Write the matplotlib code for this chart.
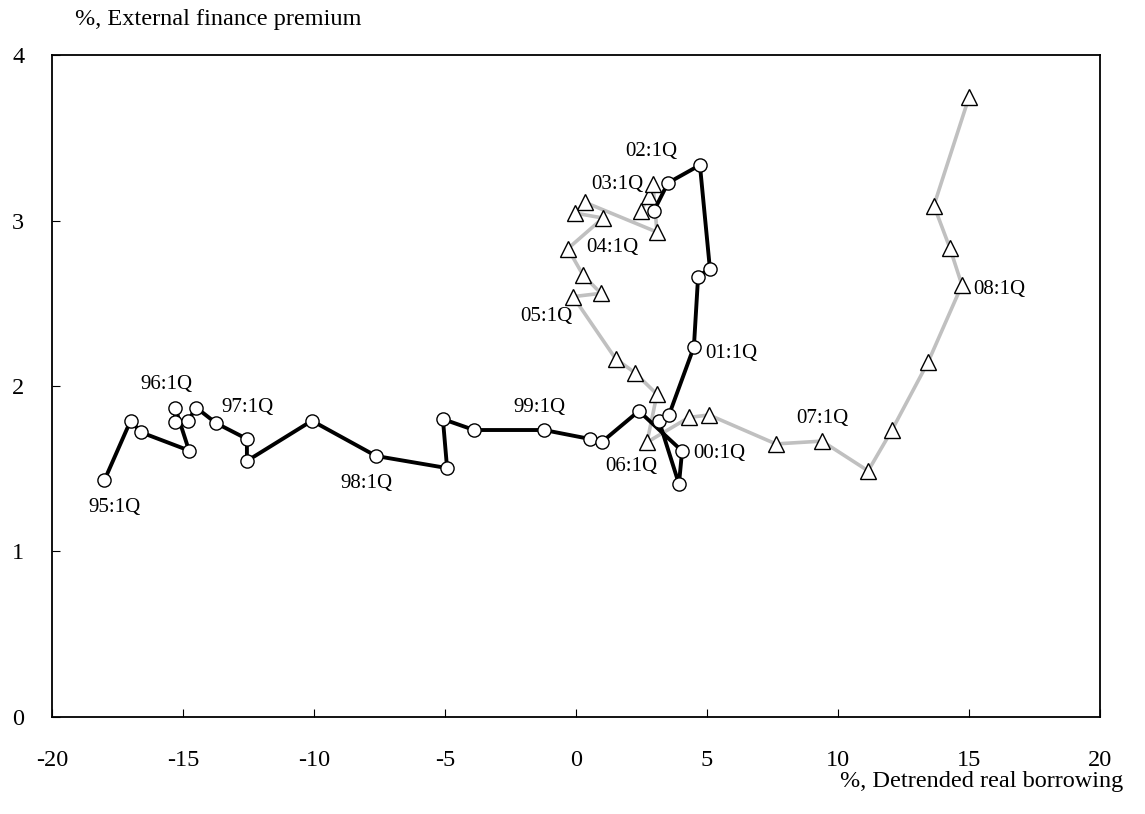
import matplotlib
matplotlib.use("Agg")
from matplotlib import pyplot as plt

plt.rcParams['font.family'] = ['Liberation Serif', 'DejaVu Serif']
plt.rcParams['axes.unicode_minus'] = False

# black series: 95:1Q .. 02:2Q (circles)
black_x = [-18.0, -17.0, -16.6, -14.77,
           -15.3, -15.3, -14.8, -14.5,
           -13.74, -12.56, -12.56, -10.08,
           -7.63, -4.92, -5.08, -3.89,
           -1.22, 0.53, 0.99, 2.40,
           4.05, 3.93, 3.17, 3.55,
           4.50, 4.66, 5.11, 4.73,
           3.51, 2.98]
black_y = [1.43, 1.79, 1.72, 1.61,
           1.87, 1.78, 1.79, 1.87,
           1.776, 1.68, 1.547, 1.79,
           1.577, 1.504, 1.80, 1.734,
           1.734, 1.68, 1.662, 1.849,
           1.607, 1.408, 1.788, 1.825,
           2.236, 2.66, 2.71, 3.335,
           3.227, 3.06]

# grey series: 02:3Q .. 08:4Q (triangles)
gray_x = [2.48, 2.79,
          2.94, 3.09, 0.34, -0.04,
          1.03, -0.31, 0.27, 0.95,
          -0.11, 1.51, 2.25, 3.09,
          2.71, 4.31, 5.08, 7.63,
          9.39, 11.15, 12.06, 13.44,
          14.73, 14.27, 13.66, 15.0]
gray_y = [3.06, 3.15,
          3.22, 2.93, 3.11, 3.045,
          3.015, 2.83, 2.67, 2.56,
          2.54, 2.165, 2.08, 1.95,
          1.66, 1.81, 1.825, 1.65,
          1.667, 1.487, 1.734, 2.145,
          2.61, 2.834, 3.09, 3.745]

black_labels = {0: "95:1Q", 4: "96:1Q", 8: "97:1Q", 12: "98:1Q",
                16: "99:1Q", 20: "00:1Q", 24: "01:1Q", 28: "02:1Q"}
gray_labels = {2: "03:1Q", 6: "04:1Q", 10: "05:1Q", 14: "06:1Q",
               18: "07:1Q", 22: "08:1Q"}

# label placement (offset in points, horizontal alignment)
label_pos = {
    "95:1Q": (7, -19.5, 'center'),
    "96:1Q": (-6.5, 16.5, 'center'),
    "97:1Q": (23, 11.5, 'center'),
    "98:1Q": (-7, -19.5, 'center'),
    "99:1Q": (-3, 16, 'center'),
    "00:1Q": (8, -2, 'left'),
    "01:1Q": (8, -4.5, 'left'),
    "02:1Q": (-12, 23, 'center'),
    "03:1Q": (-7, 0, 'right'),
    "04:1Q": (6.5, -21, 'center'),
    "05:1Q": (-19.5, -14.5, 'center'),
    "06:1Q": (-11.5, -17.5, 'center'),
    "07:1Q": (0, 16.5, 'center'),
    "08:1Q": (8, -3, 'left'),
}

fig = plt.figure(figsize=(11.45, 8.14), dpi=100)
ax = fig.add_axes([0.0454, 0.1192, 0.9153, 0.8132])

ax.plot(gray_x, gray_y, color="#c0c0c0", linewidth=2.6, zorder=2)
ax.plot(gray_x, gray_y, linestyle="none", marker="^", markersize=11,
        markerfacecolor="white", markeredgecolor="black", markeredgewidth=1.0, zorder=3)
ax.plot(black_x, black_y, color="black", linewidth=2.8, zorder=4)
ax.plot(black_x, black_y, linestyle="none", marker="o", markersize=9.5,
        markerfacecolor="white", markeredgecolor="black", markeredgewidth=1.0, zorder=5)

def put_labels(xs, ys, labels):
    for i in labels:
        name = labels[i]
        dx, dy, ha = label_pos[name]
        ax.annotate(name, xy=(xs[i], ys[i]), xytext=(dx, dy), textcoords="offset points",
                    ha=ha, va="center", fontsize=15, zorder=6)

put_labels(black_x, black_y, black_labels)
put_labels(gray_x, gray_y, gray_labels)

ax.set_xlim(-20, 20)
ax.set_ylim(0, 4)
ax.set_xticks([-20, -15, -10, -5, 0, 5, 10, 15, 20])
ax.set_yticks([0, 1, 2, 3, 4])
ax.tick_params(axis="both", direction="in", length=6, width=0.8, labelsize=17.5)
ax.tick_params(axis="x", pad=24)
ax.tick_params(axis="y", pad=20)
for s in ax.spines.values():
    s.set_linewidth(1.3)

fig.text(75 / 1145, 1 - 20 / 814, "%, External finance premium", ha="left", va="center", fontsize=17.5)
fig.text(1123 / 1145, 1 - 781 / 814, "%, Detrended real borrowing", ha="right", va="center", fontsize=17.5)

fig.savefig("out.png", dpi=100)
